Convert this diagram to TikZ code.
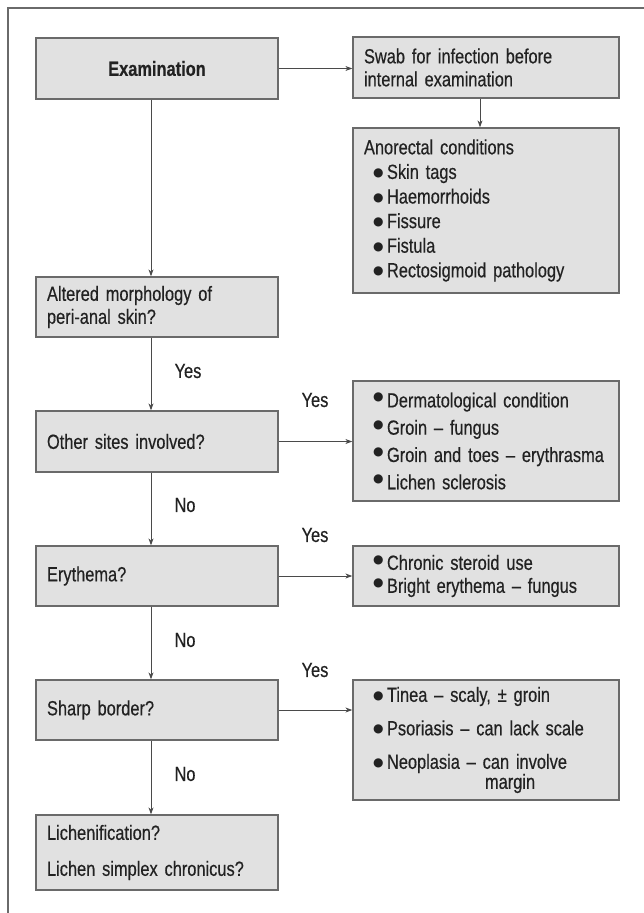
\documentclass[tikz,border=0pt]{standalone}
\usepackage{fontspec}
\setmainfont[FakeStretch=0.8,WordSpace=0.8,FakeBold=0.4]{Liberation Sans}
\newfontfamily\bulfont{DejaVu Sans}
\usetikzlibrary{arrows.meta,calc}
\definecolor{boxfill}{HTML}{E1E1E1}
\definecolor{boxline}{HTML}{6A6A6A}
\definecolor{txt}{HTML}{222222}
\definecolor{lnk}{HTML}{4A4A4A}
\newcommand{\blt}{\hspace*{9pt}\makebox[14pt][l]{\raisebox{2.5pt}{\bulfont\fontsize{12}{12}\selectfont ●}}}
\newcommand{\bltr}{\hspace*{9pt}\makebox[14pt][l]{\raisebox{6.5pt}{\bulfont\fontsize{12}{12}\selectfont ●}}}
\begin{document}
\begin{tikzpicture}[x=1pt,y=-1pt,
  box/.style={draw=boxline, fill=boxfill, line width=1.3pt, rectangle,
    inner xsep=11pt, inner ysep=0pt, align=left, text=txt,
    font=\fontsize{20.5}{23}\selectfont},
  lbox/.style={box, minimum width=242pt, text width=220pt},
  rbox/.style={box, minimum width=266pt, text width=244pt},
  lab/.style={text=txt, font=\fontsize{20.5}{23}\selectfont, inner sep=0pt},
  link/.style={draw=lnk, line width=0.9pt, -{Stealth[length=7pt,width=5pt]}}
]
\useasboundingbox (0,0) rectangle (644,913);
\fill[white] (0,0) rectangle (644,913);
\draw[draw=boxline, line width=1.6pt] (8,913) -- (8,8) -- (644,8);

\coordinate (tx) at (151,0);
\coordinate (rx) at (480,0);

\node[lbox, minimum height=61pt, align=center, font=\fontsize{20.5}{23}\selectfont\bfseries] (exam) at (157,68.5) {Examination};
\node[rbox, minimum height=61pt] (swab) at (486,67.5) {Swab for infection before\\internal examination};
\node[rbox, minimum height=165pt, font=\fontsize{20.5}{24.6}\selectfont] (ano) at (486,210.5)
  {Anorectal conditions\\\blt Skin tags\\\blt Haemorrhoids\\\blt Fissure\\\blt Fistula\\\blt Rectosigmoid pathology};

\node[lbox, minimum height=60pt] (alt) at (157,307) {Altered morphology of\\peri-anal skin?};
\node[lbox, minimum height=61pt] (oth) at (157,441.5) {Other sites involved?};
\node[rbox, minimum height=120pt, font=\fontsize{20.5}{27.3}\selectfont] (derm) at (486,441)
  {\bltr Dermatological condition\\\bltr Groin -- fungus\\\bltr Groin and toes -- erythrasma\\\bltr Lichen sclerosis};

\node[lbox, minimum height=60pt] (ery) at (157,576) {Erythema?};
\node[rbox, minimum height=60pt, font=\fontsize{20.5}{23}\selectfont] (eryr) at (486,576)
  {\bltr Chronic steroid use\\\bltr Bright erythema -- fungus};

\node[lbox, minimum height=60pt] (shp) at (157,710) {Sharp border?};
\node[rbox, minimum height=120pt, font=\fontsize{20.5}{20}\selectfont] (shpr) at (486,740)
  {\blt Tinea -- scaly, ± groin\\[13.5pt]\blt Psoriasis -- can lack scale\\[13.5pt]\blt Neoplasia -- can involve\\\hspace*{121pt}margin};

\node[lbox, minimum height=75pt, font=\fontsize{20.5}{36}\selectfont] (lich) at (157,852.5) {Lichenification?\\Lichen simplex chronicus?};

\node[lab] (y1) at (188,371) {Yes};
\node[lab] (y2) at (315,400) {Yes};
\node[lab] (n1) at (185,505) {No};
\node[lab] (y3) at (315,535) {Yes};
\node[lab] (n2) at (185,640) {No};
\node[lab] (y4) at (315,670) {Yes};
\node[lab] (n3) at (185,774) {No};

\draw[link] (exam.east) -- (exam.east -| swab.west);
\draw[link] (swab.south -| rx) -- (ano.north -| rx);
\draw[link] (exam.south -| tx) -- (alt.north -| tx);
\draw[link] (alt.south -| tx) -- (oth.north -| tx);
\draw[link] (oth.east) -- (oth.east -| derm.west);
\draw[link] (oth.south -| tx) -- (ery.north -| tx);
\draw[link] (ery.east) -- (ery.east -| eryr.west);
\draw[link] (ery.south -| tx) -- (shp.north -| tx);
\draw[link] (shp.east) -- (shp.east -| shpr.west);
\draw[link] (shp.south -| tx) -- (lich.north -| tx);
\end{tikzpicture}
\end{document}
